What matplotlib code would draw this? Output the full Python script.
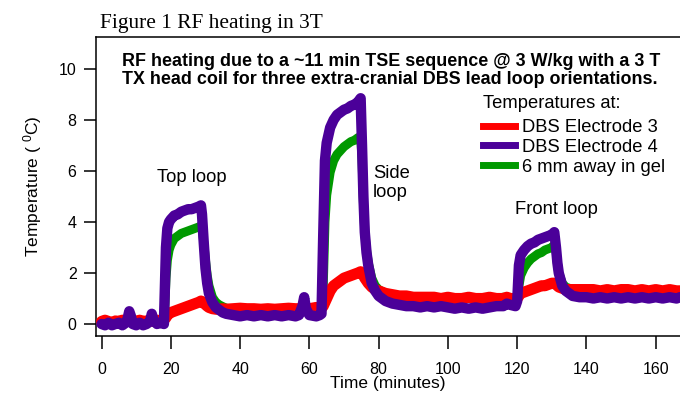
import matplotlib
matplotlib.use("Agg")
import matplotlib.pyplot as plt
from matplotlib.lines import Line2D

plt.rcParams['font.family'] = ['Liberation Sans', 'DejaVu Sans']

# ---------------- data ----------------
time_min = [
    0, 1, 2, 3, 4, 5, 6, 7, 7.5, 8, 8.5, 9, 10, 11, 12, 13, 14, 14.5, 15, 16, 17, 18,
    18.3, 18.6, 19, 19.5, 20, 21, 22, 23, 24, 25, 26, 27, 28, 28.7,
    29, 29.5, 30, 30.5, 31, 32, 33, 34, 35, 36, 38, 40, 42, 44, 46, 48, 50, 52, 54, 56, 57, 58, 58.5, 59, 60, 62, 63,
    63.5, 64, 64.5, 65, 66, 67, 68, 69, 70, 71, 72, 73, 74, 74.8,
    75.2, 75.6, 76, 76.5, 77, 78, 79, 80, 82, 84, 86, 88, 90, 92, 94, 96, 98, 100, 102, 104, 106, 108, 110, 112, 114, 116, 117, 118, 119.5,
    120, 120.5, 121, 122, 123, 124, 125, 126, 127, 128, 129, 130, 130.7,
    131.2, 131.6, 132, 133, 134, 135, 136, 138, 140, 142, 144, 146, 148, 150, 152, 154, 156, 158, 160, 162, 164, 166, 167,
]

electrode4 = [
    0.0, -0.05, 0.05, -0.05, 0.0, 0.05, -0.05, 0.05, 0.2, 0.5, 0.3, 0.0, -0.05, 0.05, -0.05, 0.0, 0.1, 0.4, 0.15, 0.0, 0.05, 0.0,
    1.5, 3.0, 3.75, 4.0, 4.1, 4.25, 4.3, 4.4, 4.45, 4.5, 4.5, 4.55, 4.6, 4.65,
    4.3, 3.2, 2.2, 1.6, 1.2, 0.85, 0.65, 0.55, 0.45, 0.4, 0.35, 0.3, 0.35, 0.3, 0.35, 0.3, 0.35, 0.3, 0.35, 0.3, 0.35, 0.7, 1.05, 0.6, 0.35, 0.3, 0.35,
    0.4, 3.5, 6.4, 7.1, 7.7, 8.0, 8.2, 8.3, 8.4, 8.45, 8.55, 8.6, 8.7, 8.85,
    7.0, 5.0, 3.6, 2.8, 2.3, 1.6, 1.3, 1.1, 0.9, 0.8, 0.75, 0.7, 0.7, 0.65, 0.7, 0.65, 0.7, 0.65, 0.6, 0.65, 0.6, 0.65, 0.6, 0.65, 0.7, 0.7, 0.8, 0.75, 0.7,
    0.9, 2.3, 2.7, 2.9, 3.05, 3.15, 3.2, 3.3, 3.35, 3.4, 3.45, 3.5, 3.6,
    3.0, 2.4, 2.0, 1.5, 1.3, 1.2, 1.1, 1.05, 1.05, 1.0, 1.05, 1.0, 1.05, 1.0, 1.05, 1.0, 1.05, 1.0, 1.05, 1.0, 1.05, 1.0, 1.05,
]

gel_6mm = [
    0.1, 0.08, 0.1, 0.05, 0.1, 0.08, 0.1, 0.08, 0.1, 0.1, 0.1, 0.08, 0.1, 0.08, 0.1, 0.08, 0.1, 0.1, 0.1, 0.08, 0.1, 0.1,
    0.8, 1.8, 2.5, 2.9, 3.1, 3.35, 3.45, 3.55, 3.6, 3.65, 3.7, 3.75, 3.8, 3.85,
    3.8, 3.2, 2.5, 1.9, 1.5, 1.05, 0.85, 0.75, 0.68, 0.62, 0.58, 0.55, 0.55, 0.55, 0.55, 0.55, 0.55, 0.55, 0.55, 0.55, 0.55, 0.55, 0.55, 0.55, 0.6, 0.6, 0.6,
    0.6, 1.5, 4.0, 5.05, 5.95, 6.4, 6.65, 6.8, 6.95, 7.05, 7.15, 7.2, 7.3, 7.35,
    6.5, 4.8, 3.6, 2.9, 2.4, 1.8, 1.5, 1.35, 1.2, 1.1, 1.05, 1.05, 1.0, 1.0, 1.0, 1.0, 1.0, 1.0, 1.0, 1.0, 1.0, 1.0, 1.0, 1.0, 1.0, 1.05, 1.0, 1.0, 1.0,
    0.95, 1.5, 1.9, 2.2, 2.4, 2.55, 2.65, 2.75, 2.8, 2.9, 2.95, 3.0, 3.1,
    2.9, 2.4, 2.0, 1.6, 1.45, 1.4, 1.35, 1.3, 1.3, 1.3, 1.3, 1.3, 1.3, 1.3, 1.3, 1.3, 1.3, 1.3, 1.3, 1.3, 1.3, 1.3, 1.3,
]

electrode3 = [
    0.1, 0.15, 0.1, 0.05, 0.12, 0.1, 0.15, 0.1, 0.12, 0.15, 0.1, 0.12, 0.1, 0.15, 0.1, 0.12, 0.15, 0.12, 0.1, 0.15, 0.12, 0.15,
    0.2, 0.25, 0.35, 0.4, 0.45, 0.5, 0.55, 0.6, 0.65, 0.7, 0.75, 0.8, 0.85, 0.9,
    0.88, 0.82, 0.76, 0.7, 0.65, 0.6, 0.58, 0.58, 0.6, 0.58, 0.6, 0.62, 0.6, 0.6, 0.58, 0.6, 0.58, 0.6, 0.62, 0.6, 0.6, 0.62, 0.6, 0.62, 0.6, 0.65, 0.62,
    0.62, 0.7, 0.85, 1.0, 1.3, 1.5, 1.6, 1.7, 1.8, 1.85, 1.9, 1.95, 2.0, 2.05,
    2.0, 1.9, 1.8, 1.7, 1.6, 1.45, 1.35, 1.3, 1.2, 1.15, 1.1, 1.1, 1.05, 1.05, 1.05, 1.05, 1.0, 1.05, 1.0, 1.0, 1.05, 1.0, 1.0, 1.05, 1.0, 1.0, 1.05, 1.0, 1.0,
    1.0, 1.1, 1.2, 1.25, 1.3, 1.35, 1.4, 1.45, 1.5, 1.5, 1.55, 1.6, 1.6,
    1.55, 1.5, 1.45, 1.4, 1.35, 1.35, 1.35, 1.35, 1.35, 1.35, 1.3, 1.35, 1.3, 1.35, 1.35, 1.3, 1.35, 1.3, 1.35, 1.3, 1.35, 1.3, 1.3,
]

series_labels = ["DBS Electrode 3", "DBS Electrode 4", "6 mm away in gel"]
x_ticks = [0, 20, 40, 60, 80, 100, 120, 140, 160]
y_ticks = [0, 2, 4, 6, 8, 10]

assert len(time_min) == len(electrode4) == len(gel_6mm) == len(electrode3)

# ---------------- figure ----------------
RED = "#ff0000"
PURPLE = "#4b0099"
GREEN = "#009900"

fig = plt.figure(figsize=(6.8, 3.94), dpi=100)
ax = fig.add_axes([96 / 680, 1 - 336 / 394, 584 / 680, 299 / 394])

kw = dict(solid_joinstyle='round', solid_capstyle='round')
ax.plot(time_min, gel_6mm, color=GREEN, lw=6.5, zorder=2, **kw)
ax.plot(time_min, electrode3, color=RED, lw=8, zorder=3, **kw)
ax.plot(time_min, electrode4, color=PURPLE, lw=7.5, zorder=4, **kw)

ax.set_xlim(-1.6, 167)
ax.set_ylim(-0.47, 11.25)
ax.set_xticks(x_ticks)
ax.set_yticks(y_ticks)
ax.spines['right'].set_visible(False)
for s in ['left', 'bottom', 'top']:
    ax.spines[s].set_linewidth(1.1)
ax.tick_params(axis='both', direction='out', length=9, width=1.1, labelsize=11.5)
ax.tick_params(axis='x', pad=10)
ax.tick_params(axis='y', pad=5)

ax.set_xlabel("Time (minutes)", fontsize=12.5, labelpad=-1)
ax.set_ylabel("Temperature ( $\\mathregular{^0}$C)", fontsize=12.5, labelpad=11)

# headers
fig.text(100 / 680, 1 - 28 / 394, "Figure 1 RF heating in 3T", family=['Liberation Serif'],
         fontsize=15.4, ha='left', va='baseline')
fig.text(122 / 680, 1 - 65.5 / 394, "RF heating due to a ~11 min TSE sequence @ 3 W/kg with a 3 T",
         fontsize=12.9, fontweight='bold', ha='left', va='baseline')
fig.text(122 / 680, 1 - 84 / 394, "TX head coil for three extra-cranial DBS lead loop orientations.",
         fontsize=12.9, fontweight='bold', ha='left', va='baseline')

# annotations
ax.text(16.0, 5.73, "Top loop", fontsize=13.2, ha='left', va='center')
ax.text(78.4, 5.53, "Side\nloop", fontsize=13.2, ha='left', va='center', linespacing=1.1)
ax.text(119.4, 4.47, "Front loop", fontsize=13.2, ha='left', va='center')

# legend
ax.text((483 - 96) / 584, (336 - 104) / 299, "Temperatures at:", transform=ax.transAxes,
        fontsize=13.2, ha='left', va='center')
handles = [Line2D([], [], color=RED, lw=5),
           Line2D([], [], color=PURPLE, lw=5),
           Line2D([], [], color=GREEN, lw=5)]
leg = ax.legend(handles, series_labels, loc='upper left',
                bbox_to_anchor=((483 - 96) / 584, (336 - 119) / 299), frameon=False,
                fontsize=13.2, handlelength=1.75, handletextpad=0.35,
                labelspacing=0.15, borderpad=0, borderaxespad=0)

fig.savefig("out.png", dpi=100)
